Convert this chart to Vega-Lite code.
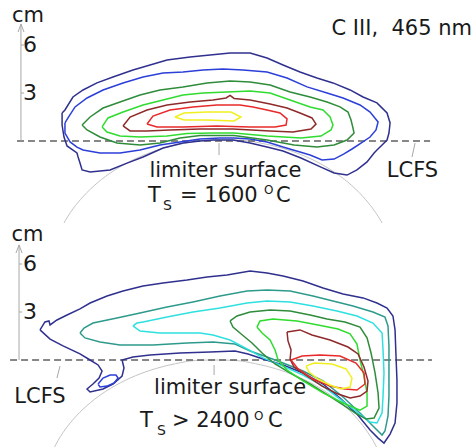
{
"$schema": "https://vega.github.io/schema/vega-lite/v6.json",
"padding": 0,
"spacing": 0,
"background": "white",
"config": {"view": {"stroke": null}, "text": {"font": "DejaVu Sans", "color": "#1a1a1a"}},
"resolve": {"scale": {"x": "independent", "y": "independent", "color": "shared"}},
"datasets": {
"topArc": [{"i":0,"x":3.63,"y":-5.92},{"i":1,"x":3.94,"y":-5.24},{"i":2,"x":4.56,"y":-4.24},{"i":3,"x":5.19,"y":-3.48},{"i":4,"x":6.13,"y":-2.58},{"i":5,"x":7.06,"y":-1.89},{"i":6,"x":7.69,"y":-1.51},{"i":7,"x":8.94,"y":-0.9},{"i":8,"x":10.19,"y":-0.46},{"i":9,"x":11.44,"y":-0.16},{"i":10,"x":12.69,"y":0.04},{"i":11,"x":13.94,"y":0.08},{"i":12,"x":15.19,"y":0.04},{"i":13,"x":16.44,"y":-0.16},{"i":14,"x":17.69,"y":-0.46},{"i":15,"x":18.94,"y":-0.9},{"i":16,"x":20.19,"y":-1.51},{"i":17,"x":20.81,"y":-1.89},{"i":18,"x":21.75,"y":-2.58},{"i":19,"x":22.69,"y":-3.48},{"i":20,"x":23.31,"y":-4.24},{"i":21,"x":23.94,"y":-5.24},{"i":22,"x":24.25,"y":-5.92}],
"botArc": [{"i":0,"x":3.16,"y":-5.99},{"i":1,"x":3.47,"y":-5.32},{"i":2,"x":4.09,"y":-4.32},{"i":3,"x":4.72,"y":-3.55},{"i":4,"x":5.66,"y":-2.66},{"i":5,"x":6.59,"y":-1.97},{"i":6,"x":7.22,"y":-1.59},{"i":7,"x":8.47,"y":-0.98},{"i":8,"x":9.72,"y":-0.54},{"i":9,"x":10.97,"y":-0.23},{"i":10,"x":12.22,"y":-0.03},{"i":11,"x":13.47,"y":0},{"i":12,"x":14.72,"y":-0.03},{"i":13,"x":15.97,"y":-0.23},{"i":14,"x":17.22,"y":-0.54},{"i":15,"x":18.47,"y":-0.98},{"i":16,"x":19.72,"y":-1.59},{"i":17,"x":20.34,"y":-1.97},{"i":18,"x":21.28,"y":-2.66},{"i":19,"x":22.22,"y":-3.55},{"i":20,"x":22.84,"y":-4.32},{"i":21,"x":23.47,"y":-5.32},{"i":22,"x":23.78,"y":-5.99}],
"topG": [{"s":"axis","i":0,"x":1.31,"y":0},{"s":"axis","i":1,"x":1.31,"y":7.31},{"s":"arrow","i":0,"x":1.13,"y":6.81},{"s":"arrow","i":1,"x":1.31,"y":7.31},{"s":"arrow","i":2,"x":1.5,"y":6.81},{"s":"t3","i":0,"x":1.31,"y":3},{"s":"t3","i":1,"x":1.5,"y":3},{"s":"t6","i":0,"x":1.31,"y":6},{"s":"t6","i":1,"x":1.5,"y":6},{"s":"lim","i":0,"x":13.69,"y":-0.13},{"s":"lim","i":1,"x":13.69,"y":-0.88},{"s":"lcfs","i":0,"x":25.94,"y":-0.13},{"s":"lcfs","i":1,"x":25.75,"y":-1.0}],
"botG": [{"s":"axis","i":0,"x":1.19,"y":0},{"s":"axis","i":1,"x":1.19,"y":7.19},{"s":"arrow","i":0,"x":1.0,"y":6.69},{"s":"arrow","i":1,"x":1.19,"y":7.19},{"s":"arrow","i":2,"x":1.38,"y":6.69},{"s":"t3","i":0,"x":1.19,"y":3},{"s":"t3","i":1,"x":1.38,"y":3},{"s":"t6","i":0,"x":1.19,"y":6},{"s":"t6","i":1,"x":1.38,"y":6},{"s":"lim","i":0,"x":13.38,"y":-0.31},{"s":"lim","i":1,"x":13.38,"y":-0.94},{"s":"lcfs","i":0,"x":3.75,"y":-0.38},{"s":"lcfs","i":1,"x":3.56,"y":-1.13}],
"topC": [
{"lv":1,"i":0,"x":3.88,"y":1.75},{"lv":1,"i":1,"x":4.06,"y":1.94},{"lv":1,"i":2,"x":4.56,"y":2.75},{"lv":1,"i":3,"x":5.19,"y":3.19},{"lv":1,"i":4,"x":6.06,"y":3.63},{"lv":1,"i":5,"x":7.06,"y":4.0},{"lv":1,"i":6,"x":8.31,"y":4.44},{"lv":1,"i":7,"x":9.38,"y":4.75},{"lv":1,"i":8,"x":10.44,"y":5.06},{"lv":1,"i":9,"x":11.88,"y":5.25},{"lv":1,"i":10,"x":13.13,"y":5.38},{"lv":1,"i":11,"x":14.38,"y":5.5},{"lv":1,"i":12,"x":15.63,"y":5.5},{"lv":1,"i":13,"x":16.69,"y":5.19},{"lv":1,"i":14,"x":17.69,"y":4.75},{"lv":1,"i":15,"x":18.75,"y":4.31},{"lv":1,"i":16,"x":19.81,"y":3.94},{"lv":1,"i":17,"x":20.81,"y":3.63},{"lv":1,"i":18,"x":21.88,"y":3.19},{"lv":1,"i":19,"x":22.69,"y":2.75},{"lv":1,"i":20,"x":23.56,"y":2.38},{"lv":1,"i":21,"x":24.19,"y":1.75},{"lv":1,"i":22,"x":24.38,"y":1.13},{"lv":1,"i":23,"x":24.31,"y":0.5},{"lv":1,"i":24,"x":24.19,"y":0.06},{"lv":1,"i":25,"x":23.88,"y":-0.25},{"lv":1,"i":26,"x":23.56,"y":-0.56},{"lv":1,"i":27,"x":23.38,"y":-0.75},{"lv":1,"i":28,"x":22.94,"y":-1.31},{"lv":1,"i":29,"x":22.31,"y":-1.81},{"lv":1,"i":30,"x":21.69,"y":-2.13},{"lv":1,"i":31,"x":20.88,"y":-2.0},{"lv":1,"i":32,"x":20.06,"y":-1.63},{"lv":1,"i":33,"x":18.81,"y":-1.06},{"lv":1,"i":34,"x":17.69,"y":-0.63},{"lv":1,"i":35,"x":16.69,"y":-0.38},{"lv":1,"i":36,"x":15.63,"y":-0.13},{"lv":1,"i":37,"x":14.56,"y":0.06},{"lv":1,"i":38,"x":13.31,"y":0.06},{"lv":1,"i":39,"x":12.5,"y":0},{"lv":1,"i":40,"x":11.44,"y":-0.13},{"lv":1,"i":41,"x":10.19,"y":-0.44},{"lv":1,"i":42,"x":8.94,"y":-1.0},{"lv":1,"i":43,"x":7.94,"y":-1.38},{"lv":1,"i":44,"x":6.88,"y":-1.81},{"lv":1,"i":45,"x":5.63,"y":-1.94},{"lv":1,"i":46,"x":5.13,"y":-1.81},{"lv":1,"i":47,"x":5.0,"y":-1.38},{"lv":1,"i":48,"x":4.88,"y":-1.0},{"lv":1,"i":49,"x":4.81,"y":-0.75},{"lv":1,"i":50,"x":4.19,"y":-0.31},{"lv":1,"i":51,"x":4.0,"y":0.25},{"lv":1,"i":52,"x":3.88,"y":1.0},{"lv":1,"i":53,"x":3.88,"y":1.75},
{"lv":2,"i":0,"x":4.06,"y":1.13},{"lv":2,"i":1,"x":4.25,"y":1.44},{"lv":2,"i":2,"x":4.69,"y":2.13},{"lv":2,"i":3,"x":5.44,"y":2.69},{"lv":2,"i":4,"x":6.44,"y":3.19},{"lv":2,"i":5,"x":7.69,"y":3.63},{"lv":2,"i":6,"x":8.94,"y":4.0},{"lv":2,"i":7,"x":10.19,"y":4.25},{"lv":2,"i":8,"x":11.44,"y":4.31},{"lv":2,"i":9,"x":12.69,"y":4.44},{"lv":2,"i":10,"x":13.94,"y":4.5},{"lv":2,"i":11,"x":15.19,"y":4.44},{"lv":2,"i":12,"x":16.69,"y":4.31},{"lv":2,"i":13,"x":17.94,"y":3.94},{"lv":2,"i":14,"x":19.19,"y":3.38},{"lv":2,"i":15,"x":20.44,"y":3.0},{"lv":2,"i":16,"x":21.44,"y":2.69},{"lv":2,"i":17,"x":22.5,"y":2.25},{"lv":2,"i":18,"x":23.13,"y":1.81},{"lv":2,"i":19,"x":23.63,"y":1.19},{"lv":2,"i":20,"x":23.5,"y":0.69},{"lv":2,"i":21,"x":23.13,"y":0.25},{"lv":2,"i":22,"x":22.56,"y":-0.13},{"lv":2,"i":23,"x":22.0,"y":-0.5},{"lv":2,"i":24,"x":21.5,"y":-0.81},{"lv":2,"i":25,"x":20.88,"y":-1.13},{"lv":2,"i":26,"x":20.13,"y":-1.19},{"lv":2,"i":27,"x":19.38,"y":-0.88},{"lv":2,"i":28,"x":18.75,"y":-0.69},{"lv":2,"i":29,"x":17.69,"y":-0.38},{"lv":2,"i":30,"x":16.69,"y":-0.06},{"lv":2,"i":31,"x":15.63,"y":0.13},{"lv":2,"i":32,"x":14.63,"y":0.19},{"lv":2,"i":33,"x":13.75,"y":0.19},{"lv":2,"i":34,"x":12.5,"y":0.13},{"lv":2,"i":35,"x":11.25,"y":-0.06},{"lv":2,"i":36,"x":10.0,"y":-0.25},{"lv":2,"i":37,"x":8.75,"y":-0.56},{"lv":2,"i":38,"x":7.5,"y":-0.75},{"lv":2,"i":39,"x":6.25,"y":-0.75},{"lv":2,"i":40,"x":5.19,"y":-0.56},{"lv":2,"i":41,"x":4.81,"y":-0.38},{"lv":2,"i":42,"x":4.38,"y":-0.06},{"lv":2,"i":43,"x":4.06,"y":0.5},{"lv":2,"i":44,"x":4.06,"y":1.13},
{"lv":5,"i":0,"x":5.13,"y":1.0},{"lv":5,"i":1,"x":5.63,"y":1.5},{"lv":5,"i":2,"x":6.44,"y":2.06},{"lv":5,"i":3,"x":7.5,"y":2.44},{"lv":5,"i":4,"x":8.75,"y":2.88},{"lv":5,"i":5,"x":10.0,"y":3.19},{"lv":5,"i":6,"x":11.44,"y":3.38},{"lv":5,"i":7,"x":12.94,"y":3.63},{"lv":5,"i":8,"x":14.38,"y":3.75},{"lv":5,"i":9,"x":15.63,"y":3.69},{"lv":5,"i":10,"x":16.88,"y":3.5},{"lv":5,"i":11,"x":18.13,"y":3.06},{"lv":5,"i":12,"x":19.38,"y":2.75},{"lv":5,"i":13,"x":20.44,"y":2.44},{"lv":5,"i":14,"x":21.25,"y":2.13},{"lv":5,"i":15,"x":21.75,"y":1.81},{"lv":5,"i":16,"x":21.94,"y":1.31},{"lv":5,"i":17,"x":22.06,"y":0.81},{"lv":5,"i":18,"x":22.13,"y":0.5},{"lv":5,"i":19,"x":21.69,"y":0.06},{"lv":5,"i":20,"x":20.88,"y":-0.25},{"lv":5,"i":21,"x":19.81,"y":-0.38},{"lv":5,"i":22,"x":18.38,"y":-0.25},{"lv":5,"i":23,"x":16.69,"y":0.06},{"lv":5,"i":24,"x":14.63,"y":0.34},{"lv":5,"i":25,"x":12.5,"y":0.34},{"lv":5,"i":26,"x":11.25,"y":0.19},{"lv":5,"i":27,"x":10.0,"y":-0.13},{"lv":5,"i":28,"x":8.75,"y":-0.25},{"lv":5,"i":29,"x":7.31,"y":-0.13},{"lv":5,"i":30,"x":6.25,"y":0.25},{"lv":5,"i":31,"x":5.44,"y":0.69},{"lv":5,"i":32,"x":5.13,"y":1.0},
{"lv":6,"i":0,"x":6.38,"y":0.88},{"lv":6,"i":1,"x":6.75,"y":1.44},{"lv":6,"i":2,"x":7.69,"y":1.81},{"lv":6,"i":3,"x":8.94,"y":2.25},{"lv":6,"i":4,"x":10.19,"y":2.56},{"lv":6,"i":5,"x":11.44,"y":2.88},{"lv":6,"i":6,"x":12.69,"y":3.0},{"lv":6,"i":7,"x":14.19,"y":3.06},{"lv":6,"i":8,"x":15.63,"y":3.13},{"lv":6,"i":9,"x":16.88,"y":3.0},{"lv":6,"i":10,"x":18.13,"y":2.56},{"lv":6,"i":11,"x":19.38,"y":2.13},{"lv":6,"i":12,"x":20.19,"y":1.94},{"lv":6,"i":13,"x":20.63,"y":1.5},{"lv":6,"i":14,"x":20.81,"y":1.0},{"lv":6,"i":15,"x":20.69,"y":0.69},{"lv":6,"i":16,"x":20.06,"y":0.31},{"lv":6,"i":17,"x":18.81,"y":0.19},{"lv":6,"i":18,"x":16.69,"y":0.31},{"lv":6,"i":19,"x":14.63,"y":0.5},{"lv":6,"i":20,"x":13.31,"y":0.5},{"lv":6,"i":21,"x":11.69,"y":0.47},{"lv":6,"i":22,"x":10.44,"y":0.31},{"lv":6,"i":23,"x":8.75,"y":0.25},{"lv":6,"i":24,"x":7.5,"y":0.31},{"lv":6,"i":25,"x":6.69,"y":0.56},{"lv":6,"i":26,"x":6.38,"y":0.88},
{"lv":7,"i":0,"x":7.69,"y":0.94},{"lv":7,"i":1,"x":8.13,"y":1.5},{"lv":7,"i":2,"x":9.19,"y":1.94},{"lv":7,"i":3,"x":10.44,"y":2.25},{"lv":7,"i":4,"x":11.88,"y":2.44},{"lv":7,"i":5,"x":13.31,"y":2.56},{"lv":7,"i":6,"x":14.13,"y":2.69},{"lv":7,"i":7,"x":14.38,"y":2.85},{"lv":7,"i":8,"x":14.63,"y":2.66},{"lv":7,"i":9,"x":15.63,"y":2.56},{"lv":7,"i":10,"x":16.88,"y":2.31},{"lv":7,"i":11,"x":17.94,"y":2.06},{"lv":7,"i":12,"x":18.75,"y":1.75},{"lv":7,"i":13,"x":19.5,"y":1.44},{"lv":7,"i":14,"x":19.75,"y":1.06},{"lv":7,"i":15,"x":19.44,"y":0.75},{"lv":7,"i":16,"x":18.31,"y":0.56},{"lv":7,"i":17,"x":16.88,"y":0.63},{"lv":7,"i":18,"x":14.56,"y":0.75},{"lv":7,"i":19,"x":12.5,"y":0.75},{"lv":7,"i":20,"x":10.63,"y":0.69},{"lv":7,"i":21,"x":9.19,"y":0.63},{"lv":7,"i":22,"x":8.13,"y":0.63},{"lv":7,"i":23,"x":7.69,"y":0.94},
{"lv":8,"i":0,"x":9.19,"y":1.06},{"lv":8,"i":1,"x":9.56,"y":1.56},{"lv":8,"i":2,"x":10.63,"y":1.94},{"lv":8,"i":3,"x":12.06,"y":2.13},{"lv":8,"i":4,"x":13.56,"y":2.25},{"lv":8,"i":5,"x":15.0,"y":2.25},{"lv":8,"i":6,"x":15.81,"y":2.13},{"lv":8,"i":7,"x":16.69,"y":1.94},{"lv":8,"i":8,"x":17.5,"y":1.75},{"lv":8,"i":9,"x":17.94,"y":1.38},{"lv":8,"i":10,"x":17.88,"y":1.0},{"lv":8,"i":11,"x":17.19,"y":0.88},{"lv":8,"i":12,"x":15.63,"y":0.88},{"lv":8,"i":13,"x":13.56,"y":0.94},{"lv":8,"i":14,"x":11.44,"y":0.88},{"lv":8,"i":15,"x":9.81,"y":0.88},{"lv":8,"i":16,"x":9.19,"y":1.06},
{"lv":9,"i":0,"x":10.94,"y":1.5},{"lv":9,"i":1,"x":11.5,"y":1.75},{"lv":9,"i":2,"x":12.94,"y":1.81},{"lv":9,"i":3,"x":14.44,"y":1.81},{"lv":9,"i":4,"x":15.06,"y":1.5},{"lv":9,"i":5,"x":14.63,"y":1.25},{"lv":9,"i":6,"x":12.94,"y":1.31},{"lv":9,"i":7,"x":11.5,"y":1.31},{"lv":9,"i":8,"x":10.94,"y":1.5}
],
"botC": [
{"lv":1,"i":0,"x":2.5,"y":1.88},{"lv":1,"i":1,"x":2.81,"y":2.38},{"lv":1,"i":2,"x":3.06,"y":2.44},{"lv":1,"i":3,"x":3.13,"y":2.19},{"lv":1,"i":4,"x":3.56,"y":2.5},{"lv":1,"i":5,"x":4.19,"y":2.81},{"lv":1,"i":6,"x":5.0,"y":3.19},{"lv":1,"i":7,"x":5.63,"y":3.56},{"lv":1,"i":8,"x":6.69,"y":4.0},{"lv":1,"i":9,"x":7.69,"y":4.31},{"lv":1,"i":10,"x":8.94,"y":4.63},{"lv":1,"i":11,"x":10.19,"y":4.81},{"lv":1,"i":12,"x":11.69,"y":5.0},{"lv":1,"i":13,"x":12.94,"y":5.19},{"lv":1,"i":14,"x":14.19,"y":5.31},{"lv":1,"i":15,"x":15.63,"y":5.56},{"lv":1,"i":16,"x":16.69,"y":5.44},{"lv":1,"i":17,"x":17.69,"y":5.25},{"lv":1,"i":18,"x":18.94,"y":4.94},{"lv":1,"i":19,"x":20.19,"y":4.5},{"lv":1,"i":20,"x":21.44,"y":4.13},{"lv":1,"i":21,"x":22.69,"y":3.88},{"lv":1,"i":22,"x":23.56,"y":3.56},{"lv":1,"i":23,"x":24.19,"y":3.25},{"lv":1,"i":24,"x":24.56,"y":2.75},{"lv":1,"i":25,"x":24.69,"y":1.88},{"lv":1,"i":26,"x":24.75,"y":0.25},{"lv":1,"i":27,"x":24.81,"y":-1.25},{"lv":1,"i":28,"x":24.81,"y":-2.69},{"lv":1,"i":29,"x":24.69,"y":-3.94},{"lv":1,"i":30,"x":24.38,"y":-4.63},{"lv":1,"i":31,"x":24.0,"y":-5.19},{"lv":1,"i":32,"x":23.63,"y":-4.88},{"lv":1,"i":33,"x":23.13,"y":-4.38},{"lv":1,"i":34,"x":22.31,"y":-3.38},{"lv":1,"i":35,"x":21.25,"y":-2.38},{"lv":1,"i":36,"x":20.19,"y":-1.5},{"lv":1,"i":37,"x":18.94,"y":-0.81},{"lv":1,"i":38,"x":17.69,"y":-0.31},{"lv":1,"i":39,"x":16.44,"y":0.06},{"lv":1,"i":40,"x":15.5,"y":0.38},{"lv":1,"i":41,"x":14.69,"y":0.56},{"lv":1,"i":42,"x":13.13,"y":0.5},{"lv":1,"i":43,"x":11.25,"y":0.44},{"lv":1,"i":44,"x":9.38,"y":0.31},{"lv":1,"i":45,"x":8.31,"y":0.19},{"lv":1,"i":46,"x":7.63,"y":0},{"lv":1,"i":47,"x":7.75,"y":-0.5},{"lv":1,"i":48,"x":7.63,"y":-1.0},{"lv":1,"i":49,"x":7.06,"y":-1.5},{"lv":1,"i":50,"x":6.44,"y":-1.81},{"lv":1,"i":51,"x":5.63,"y":-2.0},{"lv":1,"i":52,"x":5.44,"y":-1.81},{"lv":1,"i":53,"x":5.81,"y":-1.5},{"lv":1,"i":54,"x":6.19,"y":-1.13},{"lv":1,"i":55,"x":6.38,"y":-0.69},{"lv":1,"i":56,"x":6.13,"y":-0.31},{"lv":1,"i":57,"x":5.63,"y":0},{"lv":1,"i":58,"x":5.0,"y":0.38},{"lv":1,"i":59,"x":3.94,"y":0.88},{"lv":1,"i":60,"x":3.13,"y":1.31},{"lv":1,"i":61,"x":2.5,"y":1.88},
{"lv":2,"i":0,"x":6.13,"y":-1.5},{"lv":2,"i":1,"x":6.44,"y":-1.13},{"lv":2,"i":2,"x":6.88,"y":-0.94},{"lv":2,"i":3,"x":7.25,"y":-0.94},{"lv":2,"i":4,"x":7.38,"y":-1.13},{"lv":2,"i":5,"x":7.13,"y":-1.44},{"lv":2,"i":6,"x":6.69,"y":-1.63},{"lv":2,"i":7,"x":6.25,"y":-1.69},{"lv":2,"i":8,"x":6.13,"y":-1.5},
{"lv":3,"i":0,"x":5.0,"y":1.69},{"lv":3,"i":1,"x":5.25,"y":2.0},{"lv":3,"i":2,"x":5.81,"y":2.31},{"lv":3,"i":3,"x":7.31,"y":2.63},{"lv":3,"i":4,"x":8.75,"y":2.94},{"lv":3,"i":5,"x":10.44,"y":3.31},{"lv":3,"i":6,"x":12.06,"y":3.63},{"lv":3,"i":7,"x":13.75,"y":4.0},{"lv":3,"i":8,"x":15.44,"y":4.31},{"lv":3,"i":9,"x":16.69,"y":4.38},{"lv":3,"i":10,"x":18.13,"y":4.31},{"lv":3,"i":11,"x":19.56,"y":4.0},{"lv":3,"i":12,"x":20.81,"y":3.69},{"lv":3,"i":13,"x":22.06,"y":3.38},{"lv":3,"i":14,"x":23.31,"y":3.0},{"lv":3,"i":15,"x":24.06,"y":2.69},{"lv":3,"i":16,"x":24.25,"y":2.13},{"lv":3,"i":17,"x":24.31,"y":0.88},{"lv":3,"i":18,"x":24.31,"y":-0.63},{"lv":3,"i":19,"x":24.31,"y":-2.25},{"lv":3,"i":20,"x":24.25,"y":-3.5},{"lv":3,"i":21,"x":24.06,"y":-4.44},{"lv":3,"i":22,"x":23.88,"y":-4.69},{"lv":3,"i":23,"x":23.31,"y":-4.13},{"lv":3,"i":24,"x":22.5,"y":-3.31},{"lv":3,"i":25,"x":21.44,"y":-2.31},{"lv":3,"i":26,"x":20.19,"y":-1.31},{"lv":3,"i":27,"x":18.94,"y":-0.69},{"lv":3,"i":28,"x":17.69,"y":-0.19},{"lv":3,"i":29,"x":16.69,"y":0.19},{"lv":3,"i":30,"x":15.63,"y":0.56},{"lv":3,"i":31,"x":14.69,"y":1.0},{"lv":3,"i":32,"x":13.31,"y":1.13},{"lv":3,"i":33,"x":11.69,"y":1.06},{"lv":3,"i":34,"x":9.56,"y":0.94},{"lv":3,"i":35,"x":7.5,"y":0.94},{"lv":3,"i":36,"x":6.25,"y":1.13},{"lv":3,"i":37,"x":5.31,"y":1.38},{"lv":3,"i":38,"x":5.0,"y":1.69},
{"lv":4,"i":0,"x":8.31,"y":2.13},{"lv":4,"i":1,"x":8.56,"y":2.31},{"lv":4,"i":2,"x":8.94,"y":2.38},{"lv":4,"i":3,"x":10.44,"y":2.69},{"lv":4,"i":4,"x":12.06,"y":3.0},{"lv":4,"i":5,"x":13.75,"y":3.25},{"lv":4,"i":6,"x":15.44,"y":3.56},{"lv":4,"i":7,"x":16.69,"y":3.69},{"lv":4,"i":8,"x":18.13,"y":3.63},{"lv":4,"i":9,"x":19.56,"y":3.38},{"lv":4,"i":10,"x":21.06,"y":3.06},{"lv":4,"i":11,"x":22.31,"y":2.75},{"lv":4,"i":12,"x":23.31,"y":2.31},{"lv":4,"i":13,"x":23.88,"y":1.69},{"lv":4,"i":14,"x":23.94,"y":0.63},{"lv":4,"i":15,"x":24.0,"y":-0.81},{"lv":4,"i":16,"x":23.94,"y":-2.25},{"lv":4,"i":17,"x":23.88,"y":-3.31},{"lv":4,"i":18,"x":23.56,"y":-3.94},{"lv":4,"i":19,"x":23.13,"y":-3.88},{"lv":4,"i":20,"x":22.31,"y":-3.25},{"lv":4,"i":21,"x":21.25,"y":-2.44},{"lv":4,"i":22,"x":20.19,"y":-1.63},{"lv":4,"i":23,"x":18.94,"y":-0.94},{"lv":4,"i":24,"x":17.69,"y":-0.38},{"lv":4,"i":25,"x":16.44,"y":0.13},{"lv":4,"i":26,"x":15.44,"y":0.69},{"lv":4,"i":27,"x":14.38,"y":1.25},{"lv":4,"i":28,"x":13.31,"y":1.56},{"lv":4,"i":29,"x":12.5,"y":1.69},{"lv":4,"i":30,"x":11.25,"y":1.69},{"lv":4,"i":31,"x":10.0,"y":1.69},{"lv":4,"i":32,"x":8.75,"y":1.81},{"lv":4,"i":33,"x":8.31,"y":2.13},
{"lv":5,"i":0,"x":14.38,"y":2.44},{"lv":5,"i":1,"x":14.81,"y":2.75},{"lv":5,"i":2,"x":15.63,"y":3.0},{"lv":5,"i":3,"x":16.88,"y":3.13},{"lv":5,"i":4,"x":18.13,"y":3.06},{"lv":5,"i":5,"x":19.38,"y":2.81},{"lv":5,"i":6,"x":20.44,"y":2.56},{"lv":5,"i":7,"x":21.56,"y":2.38},{"lv":5,"i":8,"x":22.5,"y":2.06},{"lv":5,"i":9,"x":22.94,"y":1.38},{"lv":5,"i":10,"x":23.19,"y":0.44},{"lv":5,"i":11,"x":23.44,"y":-0.81},{"lv":5,"i":12,"x":23.63,"y":-2.06},{"lv":5,"i":13,"x":23.69,"y":-3.0},{"lv":5,"i":14,"x":23.38,"y":-3.63},{"lv":5,"i":15,"x":22.88,"y":-3.69},{"lv":5,"i":16,"x":22.19,"y":-3.31},{"lv":5,"i":17,"x":21.44,"y":-2.81},{"lv":5,"i":18,"x":20.5,"y":-2.19},{"lv":5,"i":19,"x":19.38,"y":-1.5},{"lv":5,"i":20,"x":18.25,"y":-0.88},{"lv":5,"i":21,"x":17.19,"y":-0.25},{"lv":5,"i":22,"x":16.38,"y":0.44},{"lv":5,"i":23,"x":15.75,"y":1.06},{"lv":5,"i":24,"x":15.0,"y":1.69},{"lv":5,"i":25,"x":14.56,"y":2.06},{"lv":5,"i":26,"x":14.38,"y":2.44},
{"lv":6,"i":0,"x":16.06,"y":2.06},{"lv":6,"i":1,"x":16.25,"y":2.44},{"lv":6,"i":2,"x":17.06,"y":2.56},{"lv":6,"i":3,"x":18.56,"y":2.44},{"lv":6,"i":4,"x":19.88,"y":2.19},{"lv":6,"i":5,"x":21.13,"y":1.94},{"lv":6,"i":6,"x":21.88,"y":1.63},{"lv":6,"i":7,"x":22.31,"y":1.0},{"lv":6,"i":8,"x":22.5,"y":0},{"lv":6,"i":9,"x":22.75,"y":-1.0},{"lv":6,"i":10,"x":22.94,"y":-2.06},{"lv":6,"i":11,"x":22.94,"y":-2.88},{"lv":6,"i":12,"x":22.5,"y":-3.13},{"lv":6,"i":13,"x":21.44,"y":-2.69},{"lv":6,"i":14,"x":20.19,"y":-2.06},{"lv":6,"i":15,"x":18.94,"y":-1.31},{"lv":6,"i":16,"x":17.94,"y":-0.63},{"lv":6,"i":17,"x":17.38,"y":0},{"lv":6,"i":18,"x":17.19,"y":0.63},{"lv":6,"i":19,"x":16.88,"y":1.25},{"lv":6,"i":20,"x":16.38,"y":1.69},{"lv":6,"i":21,"x":16.06,"y":2.06},
{"lv":7,"i":0,"x":17.94,"y":1.75},{"lv":7,"i":1,"x":18.75,"y":1.88},{"lv":7,"i":2,"x":19.5,"y":1.56},{"lv":7,"i":3,"x":20.63,"y":1.25},{"lv":7,"i":4,"x":21.75,"y":0.81},{"lv":7,"i":5,"x":22.38,"y":0.38},{"lv":7,"i":6,"x":22.75,"y":-0.44},{"lv":7,"i":7,"x":23.0,"y":-1.31},{"lv":7,"i":8,"x":22.94,"y":-1.94},{"lv":7,"i":9,"x":22.5,"y":-2.25},{"lv":7,"i":10,"x":21.88,"y":-2.38},{"lv":7,"i":11,"x":21.13,"y":-2.13},{"lv":7,"i":12,"x":20.13,"y":-1.63},{"lv":7,"i":13,"x":19.19,"y":-1.0},{"lv":7,"i":14,"x":18.38,"y":-0.44},{"lv":7,"i":15,"x":18.13,"y":0.06},{"lv":7,"i":16,"x":18.19,"y":0.63},{"lv":7,"i":17,"x":18.0,"y":1.19},{"lv":7,"i":18,"x":17.94,"y":1.75},
{"lv":8,"i":0,"x":18.19,"y":0},{"lv":8,"i":1,"x":18.88,"y":0.25},{"lv":8,"i":2,"x":20.0,"y":0.31},{"lv":8,"i":3,"x":21.25,"y":0.25},{"lv":8,"i":4,"x":22.25,"y":-0.19},{"lv":8,"i":5,"x":22.75,"y":-0.81},{"lv":8,"i":6,"x":22.81,"y":-1.5},{"lv":8,"i":7,"x":22.31,"y":-1.88},{"lv":8,"i":8,"x":21.56,"y":-1.81},{"lv":8,"i":9,"x":20.63,"y":-1.63},{"lv":8,"i":10,"x":19.56,"y":-1.19},{"lv":8,"i":11,"x":18.63,"y":-0.56},{"lv":8,"i":12,"x":18.19,"y":0},
{"lv":9,"i":0,"x":19.13,"y":-0.38},{"lv":9,"i":1,"x":19.63,"y":-0.19},{"lv":9,"i":2,"x":20.75,"y":-0.25},{"lv":9,"i":3,"x":21.63,"y":-0.56},{"lv":9,"i":4,"x":22.0,"y":-1.13},{"lv":9,"i":5,"x":21.88,"y":-1.69},{"lv":9,"i":6,"x":21.31,"y":-1.81},{"lv":9,"i":7,"x":20.63,"y":-1.56},{"lv":9,"i":8,"x":19.88,"y":-1.19},{"lv":9,"i":9,"x":19.31,"y":-0.75},{"lv":9,"i":10,"x":19.13,"y":-0.38}
]
},
"vconcat": [
{
"width": 474, "height": 223,
"encoding": {
"x": {"field": "x", "type": "quantitative", "scale": {"domain": [0, 29.625], "nice": false, "zero": false}, "axis": null},
"y": {"field": "y", "type": "quantitative", "scale": {"domain": [-5.125, 8.8125], "nice": false, "zero": false}, "axis": null}
},
"layer": [
{"data": {"name": "topArc"}, "mark": {"type": "line", "color": "#c4c4c4", "strokeWidth": 1, "interpolate": "monotone", "clip": true}, "encoding": {"order": {"field": "i"}}},
{"data": {"values": [{"x": 1.06, "x2": 26.88, "y": 0}]}, "mark": {"type": "rule", "color": "#606060", "strokeWidth": 1.5, "strokeDash": [7, 4]}, "encoding": {"x2": {"field": "x2"}}},
{"data": {"name": "topG"}, "mark": {"type": "line", "color": "#a8a8a8", "strokeWidth": 1, "clip": true}, "encoding": {"detail": {"field": "s"}, "order": {"field": "i"}}},
{"data": {"name": "topC"}, "mark": {"type": "line", "strokeWidth": 1.5, "clip": true}, "encoding": {"color": {"field": "lv", "type": "ordinal", "scale": {"domain": [1,2,3,4,5,6,7,8,9], "range": ["#30308f","#2c3fd8","#2e9a8c","#2fe0e0","#2f8c3a","#2fdc2f","#8f2a2a","#e82a2a","#f0f020"]}, "legend": null}, "order": {"field": "i"}}},
{"data": {"values": [{"x": 1.44, "y": 6, "t": "6"}, {"x": 1.44, "y": 3, "t": "3"}]}, "mark": {"type": "text", "fontSize": 22, "align": "left", "baseline": "middle"}, "encoding": {"text": {"field": "t"}}},
{"data": {"values": [{"x": 1.75, "y": 7.46, "t": "cm"}]}, "mark": {"type": "text", "fontSize": 21, "align": "center", "baseline": "alphabetic"}, "encoding": {"text": {"field": "t"}}},
{"data": {"values": [{"x": 29.5, "y": 6.63, "t": "C III,\u00a0\u00a0465 nm"}]}, "mark": {"type": "text", "fontSize": 21, "align": "right", "baseline": "alphabetic"}, "encoding": {"text": {"field": "t"}}},
{"data": {"values": [{"x": 14.09, "y": -2.25, "t": "limiter surface"}, {"x": 25.78, "y": -2.25, "t": "LCFS"}]}, "mark": {"type": "text", "fontSize": 21, "align": "center", "baseline": "alphabetic"}, "encoding": {"text": {"field": "t"}}},
{"data": {"values": [{"x": 9.25, "y": -3.81, "t": "T"}, {"x": 11.25, "y": -3.81, "t": "= 1600"}, {"x": 17.25, "y": -3.81, "t": "C"}]}, "mark": {"type": "text", "fontSize": 21, "align": "left", "baseline": "alphabetic"}, "encoding": {"text": {"field": "t"}}},
{"data": {"values": [{"x": 10.19, "y": -4.31, "t": "S"}]}, "mark": {"type": "text", "fontSize": 14, "align": "left", "baseline": "alphabetic"}, "encoding": {"text": {"field": "t"}}},
{"data": {"values": [{"x": 16.5, "y": -3.34, "t": "O"}]}, "mark": {"type": "text", "fontSize": 12, "align": "left", "baseline": "alphabetic"}, "encoding": {"text": {"field": "t"}}}
]
},
{
"width": 474, "height": 224,
"encoding": {
"x": {"field": "x", "type": "quantitative", "scale": {"domain": [0, 29.625], "nice": false, "zero": false}, "axis": null},
"y": {"field": "y", "type": "quantitative", "scale": {"domain": [-5.625, 8.375], "nice": false, "zero": false}, "axis": null}
},
"layer": [
{"data": {"name": "botArc"}, "mark": {"type": "line", "color": "#c4c4c4", "strokeWidth": 1, "interpolate": "monotone", "clip": true}, "encoding": {"order": {"field": "i"}}},
{"data": {"values": [{"x": 0.63, "x2": 27.0, "y": 0}]}, "mark": {"type": "rule", "color": "#606060", "strokeWidth": 1.5, "strokeDash": [7, 4]}, "encoding": {"x2": {"field": "x2"}}},
{"data": {"name": "botG"}, "mark": {"type": "line", "color": "#a8a8a8", "strokeWidth": 1, "clip": true}, "encoding": {"detail": {"field": "s"}, "order": {"field": "i"}}},
{"data": {"name": "botC"}, "mark": {"type": "line", "strokeWidth": 1.5, "clip": true}, "encoding": {"color": {"field": "lv", "type": "ordinal", "scale": {"domain": [1,2,3,4,5,6,7,8,9], "range": ["#30308f","#2c3fd8","#2e9a8c","#2fe0e0","#2f8c3a","#2fdc2f","#8f2a2a","#e82a2a","#f0f020"]}, "legend": null}, "order": {"field": "i"}}},
{"data": {"values": [{"x": 1.44, "y": 6, "t": "6"}, {"x": 1.44, "y": 3, "t": "3"}]}, "mark": {"type": "text", "fontSize": 22, "align": "left", "baseline": "middle"}, "encoding": {"text": {"field": "t"}}},
{"data": {"values": [{"x": 1.72, "y": 7.44, "t": "cm"}]}, "mark": {"type": "text", "fontSize": 21, "align": "center", "baseline": "alphabetic"}, "encoding": {"text": {"field": "t"}}},
{"data": {"values": [{"x": 14.38, "y": -2.13, "t": "limiter surface"}, {"x": 2.5, "y": -2.69, "t": "LCFS"}]}, "mark": {"type": "text", "fontSize": 21, "align": "center", "baseline": "alphabetic"}, "encoding": {"text": {"field": "t"}}},
{"data": {"values": [{"x": 8.75, "y": -4.19, "t": "T"}, {"x": 10.75, "y": -4.19, "t": "> 2400"}, {"x": 16.75, "y": -4.19, "t": "C"}]}, "mark": {"type": "text", "fontSize": 21, "align": "left", "baseline": "alphabetic"}, "encoding": {"text": {"field": "t"}}},
{"data": {"values": [{"x": 9.81, "y": -4.69, "t": "S"}]}, "mark": {"type": "text", "fontSize": 14, "align": "left", "baseline": "alphabetic"}, "encoding": {"text": {"field": "t"}}},
{"data": {"values": [{"x": 15.88, "y": -3.72, "t": "O"}]}, "mark": {"type": "text", "fontSize": 12, "align": "left", "baseline": "alphabetic"}, "encoding": {"text": {"field": "t"}}}
]
}
]
}
